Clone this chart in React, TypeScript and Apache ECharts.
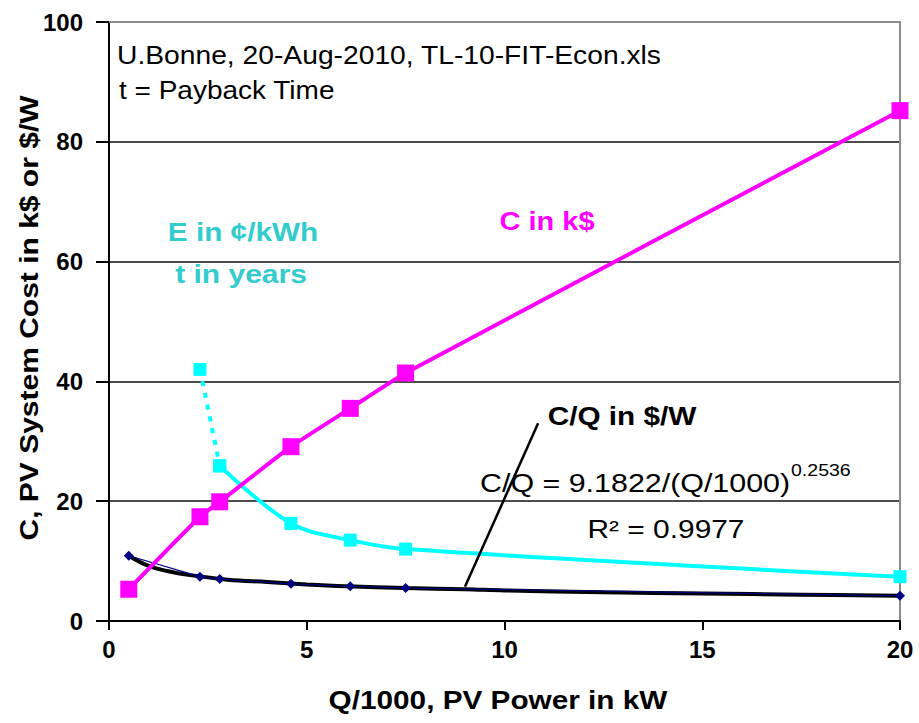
import React, { useEffect, useRef } from "react";
import * as echarts from "echarts";

// Q/1000 in kW
const Q_KW = [0.5, 2.3, 2.8, 4.6, 6.1, 7.5, 20];
// C, PV system cost in k$
const COST_K = [5.3, 17.4, 19.9, 29.1, 35.5, 41.4, 85.2];
// E in cents/kWh, t in years (starts at the 2nd Q value)
const E_Q = [2.3, 2.8, 4.6, 6.1, 7.5, 20];
const E_CENTS = [42.0, 25.9, 16.3, 13.5, 12.0, 7.4];
// C/Q in $/W
const COST_PER_W = [10.9, 7.4, 7.0, 6.2, 5.8, 5.5, 4.2];
// power-law trendline, values
const TREND_Q = [0.5, 1, 1.5, 2, 3, 4, 5, 6, 7.5, 9, 10, 12.5, 15, 17.5, 20];
const TREND_V = [10.9, 9.2, 8.3, 7.7, 6.9, 6.5, 6.1, 5.8, 5.5, 5.3, 5.1, 4.8, 4.6, 4.4, 4.2];

const X_TICKS = { min: 0, max: 20, interval: 5 };
const Y_TICKS = { min: 0, max: 100, interval: 20 };

const FONT = "'Liberation Sans', Arial, Helvetica, sans-serif";

function txt(
  text: string,
  x: number,
  y: number,
  o: { sx?: number; rot?: number; color?: string; size?: number; bold?: boolean; align?: string } = {}
) {
  const align = o.align ?? "center";
  return {
    type: "text",
    x,
    y,
    scaleX: o.sx ?? 1,
    rotation: o.rot ?? 0,
    silent: true,
    z: 100,
    style: {
      text,
      x: 0,
      y: 0,
      fill: o.color ?? "#000",
      fontSize: o.size ?? 25,
      fontWeight: o.bold ? "bold" : "normal",
      fontFamily: FONT,
      align,
      verticalAlign: "middle",
      textAlign: align,
      textVerticalAlign: "middle",
    },
  };
}

export default function App() {
  const ref = useRef<HTMLDivElement>(null);
  useEffect(() => {
    document.body.style.margin = "0";
    const chart = echarts.init(ref.current!, null, { renderer: "svg" });
    const zip = (xs: number[], ys: number[]) => xs.map((x, i) => [x, ys[i]]);
    const axisLabel = { color: "#000", fontSize: 24, fontWeight: "bold", fontFamily: FONT };
    chart.setOption({
      animation: false,
      backgroundColor: "#fff",
      grid: { left: 109, right: 19, top: 22, bottom: 102, containLabel: false },
      xAxis: [
        {
          type: "value",
          ...X_TICKS,
          axisLine: { show: true, onZero: false, lineStyle: { color: "#000", width: 2 } },
          axisTick: { show: true, inside: false, length: 9, lineStyle: { color: "#000", width: 2 } },
          axisLabel: { ...axisLabel, margin: 16 },
          splitLine: { show: false },
        },
        {
          type: "value",
          position: "top",
          ...X_TICKS,
          axisLine: { show: true, onZero: false, lineStyle: { color: "#8c8c8c", width: 2 } },
          axisTick: { show: false },
          axisLabel: { show: false },
          splitLine: { show: false },
        },
      ],
      yAxis: [
        {
          type: "value",
          ...Y_TICKS,
          axisLine: { show: true, onZero: false, lineStyle: { color: "#000", width: 2 } },
          axisTick: { show: true, inside: false, length: 13, lineStyle: { color: "#000", width: 2 } },
          axisLabel: { ...axisLabel, margin: 26 },
          splitLine: { show: true, showMinLine: false, showMaxLine: false, lineStyle: { color: "#111", width: 1.6 } },
        },
        {
          type: "value",
          position: "right",
          ...Y_TICKS,
          axisLine: { show: true, onZero: false, lineStyle: { color: "#8c8c8c", width: 2 } },
          axisTick: { show: false },
          axisLabel: { show: false },
          splitLine: { show: false },
        },
      ],
      series: [
        {
          name: "trend",
          type: "line",
          data: zip(TREND_Q, TREND_V),
          smooth: 0.4,
          symbol: "none",
          lineStyle: { color: "#000", width: 4 },
          z: 2,
        },
        {
          name: "C/Q",
          type: "line",
          data: zip(Q_KW, COST_PER_W),
          symbol: "diamond",
          symbolSize: 10,
          itemStyle: { color: "#000080" },
          lineStyle: { color: "#000080", width: 1.2 },
          z: 3,
        },
        {
          name: "E dashed",
          type: "line",
          data: zip(E_Q.slice(0, 2), E_CENTS.slice(0, 2)),
          symbol: "rect",
          symbolSize: 13,
          itemStyle: { color: "#00FFFF" },
          lineStyle: { color: "#00FFFF", width: 4, type: [5, 7] },
          z: 4,
        },
        {
          name: "E",
          type: "line",
          data: zip(E_Q.slice(1), E_CENTS.slice(1)),
          smooth: 0.35,
          symbol: "rect",
          symbolSize: 13,
          itemStyle: { color: "#00FFFF" },
          lineStyle: { color: "#00FFFF", width: 4 },
          z: 4,
        },
        {
          name: "C",
          type: "line",
          data: zip(Q_KW, COST_K),
          smooth: 0.15,
          symbol: "rect",
          symbolSize: 17,
          itemStyle: { color: "#FF00FF" },
          lineStyle: { color: "#FF00FF", width: 4 },
          z: 5,
        },
      ],
    });

    const p0 = chart.convertToPixel({ xAxisIndex: 0, yAxisIndex: 0 }, [9.0, 5.7]) as number[];
    const p1 = chart.convertToPixel({ xAxisIndex: 0, yAxisIndex: 0 }, [10.85, 33]) as number[];

    chart.setOption({
      graphic: [
        txt("U.Bonne, 20-Aug-2010, TL-10-FIT-Econ.xls", 117, 56, { align: "left", sx: 1.13 }),
        txt("t = Payback Time", 119, 91, { align: "left", sx: 1.12 }),
        txt("C in k$", 547, 221, { bold: true, color: "#FF00FF", sx: 1.16 }),
        txt("E in ¢/kWh", 243, 232, { bold: true, color: "#33CCCC", sx: 1.19 }),
        txt("t in years", 241, 274, { bold: true, color: "#33CCCC", sx: 1.2 }),
        txt("C/Q in $/W", 622, 416, { bold: true, sx: 1.19 }),
        txt("C/Q = 9.1822/(Q/1000)", 480, 483, { align: "left", size: 26, sx: 1.17 }),
        txt("0.2536", 791, 470, { align: "left", size: 17, sx: 1.15 }),
        txt("R² = 0.9977", 666, 529, { size: 26, sx: 1.15 }),
        txt("Q/1000, PV Power in kW", 498, 700, { bold: true, sx: 1.19 }),
        txt("C, PV System Cost in k$ or $/W", 29, 318, { bold: true, sx: 1.2, rot: Math.PI / 2 }),
        {
          type: "line",
          silent: true,
          z: 99,
          shape: { x1: p0[0], y1: p0[1], x2: p1[0], y2: p1[1] },
          style: { stroke: "#000", lineWidth: 2.5 },
        },
      ],
    });
    return () => chart.dispose();
  }, []);
  return <div ref={ref} style={{ width: 919, height: 723 }} />;
}
